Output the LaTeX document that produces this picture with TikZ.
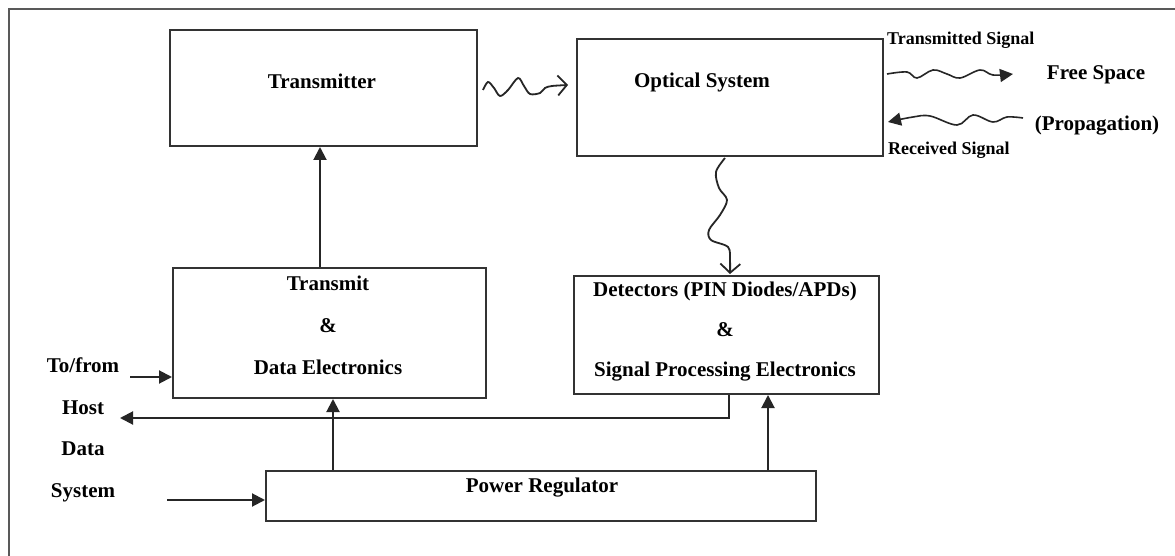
\documentclass[tikz,border=0pt]{standalone}
\usepackage{fontspec}
\setmainfont{Liberation Serif}
\usetikzlibrary{arrows.meta}
\begin{document}
\begin{tikzpicture}[x=1pt,y=-1pt,
  box/.style={draw=black!80, line width=2pt, inner sep=0pt, anchor=north west},
  lbl/.style={font=\bfseries\fontsize{21}{24}\selectfont, inner sep=0pt},
  small/.style={font=\bfseries\fontsize{18}{20}\selectfont, inner sep=0pt},
  conn/.style={draw=black!85, line width=2pt, -{Triangle[length=13pt,width=13pt]}},
  wave/.style={draw=black!85, line width=1.8pt, -{Straight Barb[length=9pt,width=20pt]}},
  legw/.style={draw=black!85, line width=1.6pt, -{Triangle[length=13pt,width=13pt]}}
]
\useasboundingbox (0,0) rectangle (1175,556);
\fill[white] (0,0) rectangle (1175,556);
\draw[black!65, line width=2.6pt] (9,556) -- (9,9) -- (1175,9);

% boxes
\node[box, minimum width=307pt, minimum height=116pt] (tx) at (169,29) {};
\node[box, minimum width=306pt, minimum height=117pt] (os) at (576,38) {};
\node[box, minimum width=313pt, minimum height=130pt] (tmt) at (172,267) {};
\node[box, minimum width=305pt, minimum height=118pt] (det) at (573,275) {};
\node[box, minimum width=550pt, minimum height=50pt] (pw) at (265,470) {};

% box texts
\node[lbl] (txt) at (322,81) {Transmitter};
\node[lbl] (ost) at (702,82) {Optical System};
\node[lbl, align=center] (tmtt) at (328,325) {Transmit\\[18pt]\&\\[18pt]Data Electronics};
\node[lbl, align=center] (dett) at (725,332) {Detectors (PIN Diodes/APDs)\\[16pt]\&\\[16pt]Signal Processing Electronics};
\node[lbl] (pwt) at (542,488) {Power Regulator};

% left labels
\node[lbl] (l1) at (83,365) {To/from};
\node[lbl] (l2) at (83,408) {Host};
\node[lbl] (l3) at (83,449) {Data};
\node[lbl] (l4) at (83,493) {System};

% right legend
\node[small, anchor=west] (ts) at (887,40) {Transmitted Signal};
\node[lbl] (fs) at (1096,75) {Free Space};
\node[lbl] (pr) at (1097,126) {(Propagation)};
\node[small, anchor=west] (rs) at (888,150) {Received Signal};

% connectors
\coordinate (a1) at ([xshift=-9.5pt]tmt.north);
\draw[conn] (a1) -- (a1 |- tx.south);
\coordinate (a2) at ([xshift=68pt]pw.north west);
\draw[conn] (a2) -- (a2 |- tmt.south);
\coordinate (a3) at ([xshift=503pt]pw.north west);
\draw[conn] (a3) -- (a3 |- det.south);
\coordinate (a4) at ([xshift=2pt]det.south);
\coordinate (hostend) at (120,418);
\draw[conn] (a4) -- (a4 |- hostend) -- (hostend);
\coordinate (tfs) at (130,377);
\draw[conn] (tfs) -- (tfs -| tmt.west);
\coordinate (sys) at (167,500);
\draw[conn] (sys) -- (sys -| pw.west);

% squiggle transmitter -> optical
\draw[wave] plot[smooth, tension=0.55] coordinates {(483,90) (488,82) (494,88) (500,96) (508,90) (518,78) (524,86) (530,94) (540,93) (545,88) (552,86) (568,85)};
% squiggle optical -> detectors
\draw[wave] plot[smooth, tension=0.55] coordinates {(725,158) (716,172) (719,188) (727,200) (720,215) (709,230) (711,240) (728,247) (730,260) (730,274)};

% legend squiggles
\draw[legw] plot[smooth, tension=0.6] coordinates {(887,74) (907,72) (917,78) (933,70) (947,74) (960,78) (980,70) (993,75) (1013,74)};
\draw[legw] plot[smooth, tension=0.6] coordinates {(1023,118) (1007,117) (993,122) (973,115) (957,125) (930,116) (913,117) (888,122)};
\end{tikzpicture}
\end{document}
